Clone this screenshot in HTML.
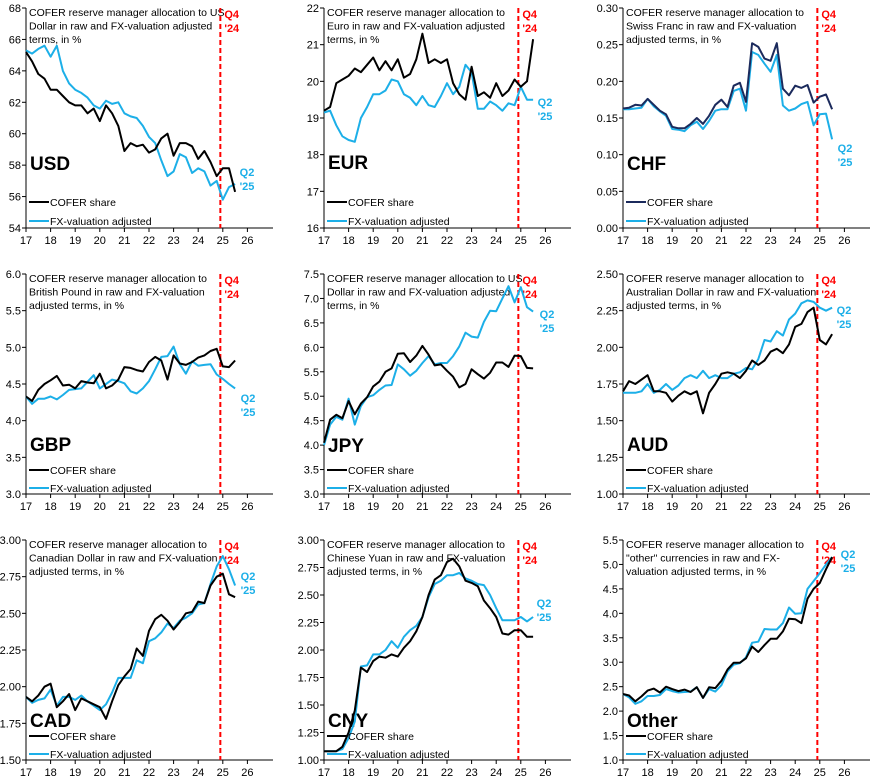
<!DOCTYPE html>
<html><head><meta charset="utf-8">
<style>
html,body{margin:0;padding:0;background:#fff;}
svg{display:block;font-family:"Liberation Sans",Arial,sans-serif;}
</style></head>
<body>
<svg id="chart" width="873" height="780" viewBox="0 0 873 780"></svg>
<script>
const years = [17,18,19,20,21,22,23,24,25,26];
const usdCofer = [65.2,64.6,63.8,63.5,62.8,62.8,62.4,62.0,61.8,61.8,61.3,61.6,60.8,61.8,61.3,60.5,58.9,59.4,59.2,59.3,58.8,59.0,59.7,60.0,58.6,59.4,59.4,59.2,58.4,58.9,58.2,57.3,57.8,57.8,56.3];
const usdAdj = [65.3,65.1,65.4,65.6,64.9,65.6,64.0,63.2,62.8,62.6,62.3,61.8,61.6,62.1,61.9,62.0,61.3,61.1,61.0,60.5,59.8,59.4,58.3,57.3,57.6,58.7,58.5,57.5,57.8,57.6,56.7,57.0,55.8,56.6,56.8];
const eurCofer = [19.2,19.3,19.95,20.05,20.15,20.35,20.25,20.45,20.65,20.3,20.55,20.3,20.6,20.1,20.2,20.6,21.3,20.5,20.6,20.5,20.6,19.95,19.65,19.5,20.4,19.6,19.7,19.55,19.95,19.6,19.75,20.05,19.85,20.0,21.15];
const eurAdj = [19.15,19.2,18.8,18.5,18.4,18.35,19.0,19.3,19.65,19.65,19.75,20.05,20.0,19.65,19.55,19.35,19.6,19.35,19.3,19.6,19.95,19.65,19.85,20.45,20.25,19.25,19.25,19.45,19.35,19.2,19.4,19.35,19.85,19.5,19.5];
const chfCofer = [.163,.164,.168,.167,.176,.168,.16,.155,.138,.136,.136,.142,.15,.142,.153,.168,.175,.165,.194,.198,.172,.252,.247,.231,.228,.252,.19,.181,.194,.191,.195,.171,.179,.182,.162];
const chfAdj = [.162,.162,.163,.164,.176,.166,.159,.153,.135,.134,.132,.14,.145,.135,.146,.16,.162,.162,.187,.19,.16,.24,.236,.224,.213,.236,.167,.16,.163,.169,.172,.14,.155,.156,.121];
const gbpCofer = [4.33,4.27,4.42,4.5,4.55,4.61,4.48,4.49,4.44,4.54,4.52,4.51,4.64,4.44,4.48,4.56,4.73,4.72,4.69,4.67,4.8,4.87,4.82,4.56,4.89,4.78,4.76,4.8,4.86,4.89,4.95,4.98,4.74,4.73,4.82];
const gbpAdj = [4.33,4.23,4.3,4.3,4.33,4.29,4.35,4.42,4.43,4.44,4.53,4.62,4.44,4.5,4.56,4.54,4.51,4.4,4.37,4.44,4.54,4.7,4.87,4.88,5.01,4.77,4.64,4.81,4.75,4.76,4.77,4.63,4.57,4.5,4.44];
const jpyCofer = [4.05,4.52,4.62,4.55,4.9,4.63,4.85,4.98,5.2,5.3,5.5,5.57,5.87,5.88,5.7,5.83,6.03,5.85,5.63,5.65,5.52,5.4,5.18,5.25,5.55,5.45,5.36,5.48,5.69,5.69,5.6,5.83,5.82,5.58,5.57];
const jpyAdj = [4.0,4.42,4.58,4.52,4.95,4.42,4.8,4.98,5.02,5.13,5.22,5.23,5.65,5.55,5.42,5.52,5.68,5.82,5.65,5.68,5.68,5.82,6.02,6.3,6.22,6.2,6.52,6.75,6.74,7.0,7.25,6.92,7.23,6.82,6.73];
const audCofer = [1.7,1.77,1.75,1.78,1.81,1.7,1.7,1.69,1.63,1.67,1.7,1.68,1.7,1.55,1.69,1.75,1.82,1.83,1.82,1.79,1.84,1.91,1.88,1.91,1.97,1.99,1.96,2.02,2.14,2.16,2.24,2.27,2.05,2.02,2.09];
const audAdj = [1.69,1.69,1.69,1.7,1.75,1.69,1.71,1.75,1.71,1.74,1.79,1.81,1.79,1.84,1.79,1.81,1.79,1.79,1.82,1.83,1.86,1.85,1.92,2.05,2.04,2.11,2.08,2.19,2.23,2.3,2.32,2.31,2.27,2.25,2.27];
const cadCofer = [1.93,1.9,1.94,2.0,2.02,1.86,1.9,1.95,1.84,1.92,1.9,1.88,1.86,1.78,1.9,2.01,2.07,2.12,2.26,2.21,2.38,2.46,2.49,2.45,2.39,2.44,2.5,2.51,2.58,2.57,2.69,2.75,2.77,2.63,2.61];
const cadAdj = [1.93,1.89,1.91,1.92,1.98,1.87,1.93,1.93,1.91,1.94,1.9,1.87,1.84,1.88,1.96,2.06,2.06,2.06,2.18,2.16,2.31,2.33,2.37,2.43,2.4,2.45,2.47,2.5,2.56,2.57,2.7,2.82,2.89,2.8,2.69];
const cnyCofer = [1.08,1.08,1.08,1.12,1.25,1.45,1.84,1.8,1.9,1.94,1.93,1.96,1.94,2.02,2.08,2.17,2.3,2.5,2.64,2.68,2.8,2.83,2.76,2.63,2.61,2.58,2.45,2.38,2.3,2.15,2.14,2.18,2.18,2.12,2.12];
const cnyAdj = [1.08,1.08,1.08,1.1,1.2,1.35,1.85,1.86,1.96,1.96,2.0,2.08,2.02,2.12,2.18,2.22,2.3,2.48,2.6,2.63,2.68,2.68,2.7,2.65,2.63,2.6,2.59,2.5,2.38,2.27,2.27,2.27,2.3,2.26,2.3];
const othCofer = [2.35,2.32,2.2,2.3,2.42,2.46,2.38,2.5,2.45,2.41,2.44,2.39,2.49,2.27,2.49,2.47,2.62,2.85,2.99,2.99,3.08,3.32,3.21,3.35,3.48,3.48,3.63,3.89,3.88,3.8,4.3,4.5,4.62,4.9,5.15];
const othAdj = [2.35,2.28,2.15,2.2,2.31,2.31,2.33,2.45,2.41,2.38,2.39,2.4,2.49,2.27,2.45,2.4,2.53,2.81,2.95,2.98,3.1,3.4,3.42,3.68,3.67,3.67,3.8,4.12,3.99,4.0,4.5,4.66,4.82,5.0,5.15];
const usdTicks = ["54","56","58","60","62","64","66","68"];
const eurTicks = ["16","17","18","19","20","21","22"];
const chfTicks = ["0.00","0.05","0.10","0.15","0.20","0.25","0.30"];
const gbpTicks = ["3.0","3.5","4.0","4.5","5.0","5.5","6.0"];
const jpyTicks = ["3.0","3.5","4.0","4.5","5.0","5.5","6.0","6.5","7.0","7.5"];
const audTicks = ["1.00","1.25","1.50","1.75","2.00","2.25","2.50"];
const cadTicks = ["1.50","1.75","2.00","2.25","2.50","2.75","3.00"];
const cnyTicks = ["1.00","1.25","1.50","1.75","2.00","2.25","2.50","2.75","3.00"];
const othTicks = ["1.0","1.5","2.0","2.5","3.0","3.5","4.0","4.5","5.0","5.5"];
const startYear = 17, stepYear = 0.25, markerYear = 24.9;

const NS = "http://www.w3.org/2000/svg";
const svg = document.getElementById("chart");
function mk(tag, attrs, parent){
  const e = document.createElementNS(NS, tag);
  for (const k in attrs) e.setAttribute(k, attrs[k]);
  (parent||svg).appendChild(e);
  return e;
}
const BLUE = "#1CAFE8";
const panels = [
  {code:"USD", x0:26, ty:8, ticks:usdTicks, a:usdCofer, b:usdAdj, ca:"#000", t:["COFER reserve manager allocation to US","Dollar in raw and FX-valuation adjusted","terms, in %"], lb:162, q2:[247,172]},
  {code:"EUR", x0:324, ty:8, ticks:eurTicks, a:eurCofer, b:eurAdj, ca:"#000", t:["COFER reserve manager allocation to","Euro in raw and FX-valuation adjusted","terms, in %"], lb:161, q2:[545,102]},
  {code:"CHF", x0:623, ty:8, ticks:chfTicks, a:chfCofer, b:chfAdj, ca:"#1B2A5C", t:["COFER reserve manager allocation to","Swiss Franc in raw and FX-valuation","adjusted terms, in %"], lb:162, q2:[845,148]},
  {code:"GBP", x0:26, ty:274, ticks:gbpTicks, a:gbpCofer, b:gbpAdj, ca:"#000", t:["COFER reserve manager allocation to","British Pound in raw and FX-valuation","adjusted terms, in %"], lb:177, q2:[248,398]},
  {code:"JPY", x0:324, ty:274, ticks:jpyTicks, a:jpyCofer, b:jpyAdj, ca:"#000", t:["COFER reserve manager allocation to US","Dollar in raw and FX-valuation adjusted","terms, in %"], lb:178, q2:[547,314]},
  {code:"AUD", x0:623, ty:274, ticks:audTicks, a:audCofer, b:audAdj, ca:"#000", t:["COFER reserve manager allocation to","Australian Dollar in raw and FX-valuation","adjusted terms, in %"], lb:177, q2:[844,310]},
  {code:"CAD", x0:26, ty:540, ticks:cadTicks, a:cadCofer, b:cadAdj, ca:"#000", t:["COFER reserve manager allocation to","Canadian Dollar in raw and FX-valuation","adjusted terms, in %"], lb:187, q2:[248,576]},
  {code:"CNY", x0:324, ty:540, ticks:cnyTicks, a:cnyCofer, b:cnyAdj, ca:"#000", t:["COFER reserve manager allocation to","Chinese Yuan in raw and FX-valuation","adjusted terms, in %"], lb:187, q2:[544,603]},
  {code:"Other", x0:623, ty:540, ticks:othTicks, a:othCofer, b:othAdj, ca:"#000", t:["COFER reserve manager allocation to","\"other\" currencies in raw and FX-","valuation adjusted terms, in %"], lb:187, q2:[848,554]}
];
const PH = 220, PW = 247, YRPX = 24.6;

panels.forEach(p => {
  const id = p.code.toLowerCase();
  const g = mk("g", {});
  
  
  const lo = parseFloat(p.ticks[0]), hi = parseFloat(p.ticks[p.ticks.length-1]);
  const xs = yr => p.x0 + (yr - 17) * YRPX;
  const ys = v => p.ty + PH - (v - lo) / (hi - lo) * PH;
  const bottom = p.ty + PH;
  // axes
  const ya = mk("line", {x1:p.x0, y1:p.ty, x2:p.x0, y2:bottom, stroke:"#000", "stroke-width":1}, g);
  
  
  const xa = mk("line", {x1:p.x0, y1:bottom, x2:p.x0+PW, y2:bottom, stroke:"#000", "stroke-width":1}, g);
  
  
  p.ticks.forEach(t => {
    const y = ys(parseFloat(t));
    mk("line", {x1:p.x0-4, y1:y, x2:p.x0, y2:y, stroke:"#000"}, g);
    const tl = mk("text", {x:p.x0-5, y:y+4, "text-anchor":"end", "font-size":11, fill:"#000"}, g);
    tl.textContent = t;
    
    
  });
  years.forEach(yv => {
    const x = xs(yv);
    mk("line", {x1:x, y1:bottom, x2:x, y2:bottom+4, stroke:"#000"}, g);
    const tl = mk("text", {x:x, y:bottom+16, "text-anchor":"middle", "font-size":11, fill:"#000"}, g);
    tl.textContent = String(yv);
    
    
  });
  // title
  p.t.forEach((line, i) => {
    const tt = mk("text", {x:p.x0+3, y:p.ty+8+i*13.5, "font-size":10.5, fill:"#000"}, g);
    tt.textContent = line;
    
    
  });
  // dashed marker
  const dx = xs(markerYear);
  const dl = mk("line", {x1:dx, y1:p.ty, x2:dx, y2:bottom, stroke:"#FF0000", "stroke-width":2, "stroke-dasharray":"5,3"}, g);
  
  
  ["Q4","'24"].forEach((s,i) => {
    const q = mk("text", {x:dx+4, y:p.ty+10+i*14, "font-size":11, "font-weight":"bold", fill:"#FF0000"}, g);
    q.textContent = s;
    
    
  });
  ["Q2","'25"].forEach((s,i) => {
    const q = mk("text", {x:p.q2[0], y:p.q2[1]+4+i*14, "text-anchor":"middle", "font-size":11, "font-weight":"bold", fill:BLUE}, g);
    q.textContent = s;
    
    
  });
  // big label
  const big = mk("text", {x:p.x0+4, y:p.ty+p.lb, "font-size":19, "font-weight":"bold", fill:"#000"}, g);
  big.textContent = p.code;
  
  
  // series
  const pts = arr => arr.map((v,i) => xs(startYear + i*stepYear).toFixed(1) + "," + ys(v).toFixed(1)).join(" ");
  const lb = mk("polyline", {points:pts(p.b), fill:"none", stroke:BLUE, "stroke-width":2, "stroke-linejoin":"round"}, g);
  
  
  const la = mk("polyline", {points:pts(p.a), fill:"none", stroke:p.ca, "stroke-width":2, "stroke-linejoin":"round"}, g);
  
  
  // legend
  const l1y = p.ty + (p.ty < 100 ? 194 : 196), l2y = p.ty + (p.ty < 100 ? 213 : 214);
  const le1 = mk("line", {x1:p.x0+3, y1:l1y, x2:p.x0+23, y2:l1y, stroke:p.ca, "stroke-width":2}, g);
  
  
  const lt1 = mk("text", {x:p.x0+24, y:l1y+4, "font-size":10.5, fill:"#000"}, g);
  lt1.textContent = "COFER share";
  
  
  const le2 = mk("line", {x1:p.x0+3, y1:l2y, x2:p.x0+23, y2:l2y, stroke:BLUE, "stroke-width":2}, g);
  
  
  const lt2 = mk("text", {x:p.x0+24, y:l2y+4, "font-size":10.5, fill:"#000"}, g);
  lt2.textContent = "FX-valuation adjusted";
  
  
});
</script>
</body></html>
